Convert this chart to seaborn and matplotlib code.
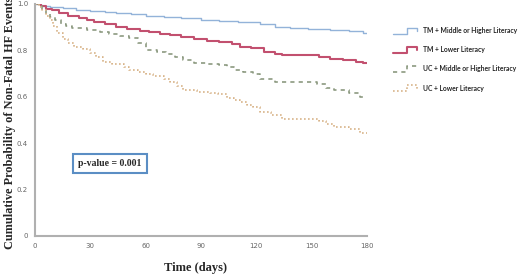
import matplotlib
matplotlib.use("Agg")
import matplotlib.pyplot as plt
import seaborn as sns
import pandas as pd
from matplotlib.lines import Line2D
from matplotlib.legend_handler import HandlerLine2D

# Kaplan-Meier-like curves (time in days, probability)
t_tm_high = [0, 3, 8, 15, 22, 30, 38, 44, 52, 60, 70, 79, 90, 100, 110, 122, 130, 138, 148, 160, 170, 178, 180]
v_tm_high = [1.0, 0.993, 0.988, 0.982, 0.976, 0.970, 0.965, 0.960, 0.955, 0.950, 0.944, 0.938, 0.933,
             0.928, 0.921, 0.912, 0.902, 0.895, 0.891, 0.887, 0.882, 0.877, 0.877]

t_tm_low = [0, 3, 6, 9, 13, 18, 24, 28, 32, 38, 44, 50, 57, 62, 68, 73, 79, 86, 93, 100, 107, 111,
            117, 124, 130, 134, 154, 160, 167, 174, 178, 180]
v_tm_low = [1.0, 0.99, 0.98, 0.972, 0.96, 0.95, 0.94, 0.932, 0.922, 0.912, 0.902, 0.893, 0.882, 0.878,
            0.872, 0.866, 0.859, 0.847, 0.842, 0.837, 0.826, 0.816, 0.812, 0.795, 0.786, 0.779, 0.772,
            0.762, 0.757, 0.751, 0.744, 0.744]

t_uc_high = [0, 2, 4, 6, 8, 11, 14, 17, 20, 28, 35, 40, 46, 51, 56, 60, 66, 71, 76, 80, 86, 93, 100,
             104, 108, 113, 118, 122, 130, 153, 158, 162, 170, 176, 180]
v_uc_high = [1.0, 0.99, 0.975, 0.958, 0.945, 0.93, 0.915, 0.905, 0.898, 0.888, 0.878, 0.872, 0.862,
             0.853, 0.83, 0.80, 0.794, 0.786, 0.77, 0.759, 0.745, 0.741, 0.737, 0.728, 0.716, 0.706,
             0.698, 0.675, 0.665, 0.656, 0.64, 0.628, 0.618, 0.60, 0.60]

t_uc_low = [0, 2, 4, 6, 8, 10, 12, 15, 18, 21, 26, 30, 33, 37, 42, 48, 51, 56, 60, 64, 70, 73, 77, 80,
            88, 95, 99, 104, 108, 111, 115, 118, 122, 128, 134, 154, 158, 162, 170, 176, 180]
v_uc_low = [1.0, 0.985, 0.972, 0.95, 0.93, 0.905, 0.875, 0.848, 0.83, 0.816, 0.806, 0.79, 0.77, 0.752,
            0.74, 0.73, 0.716, 0.706, 0.70, 0.688, 0.675, 0.665, 0.645, 0.63, 0.622, 0.618, 0.614, 0.595,
            0.585, 0.578, 0.566, 0.556, 0.536, 0.52, 0.503, 0.495, 0.482, 0.47, 0.46, 0.443, 0.443]

labels = ["TM + Middle or Higher Literacy", "TM + Lower Literacy",
          "UC + Middle or Higher Literacy", "UC + Lower Literacy"]
x_ticks = [0, 30, 60, 90, 120, 150, 180]
y_ticks = [0, 0.2, 0.4, 0.6, 0.8, 1.0]
y_tick_labels = ["0", "0.2", "0.4", "0.6", "0.8", "1.0"]
p_text = "p-value = 0.001"

series = [
    (t_tm_high, v_tm_high, "#93b3d9", 1.0, (None, None)),
    (t_tm_low, v_tm_low, "#c2506f", 1.5, (None, None)),
    (t_uc_high, v_uc_high, "#8c9a80", 1.2, (2.5, 2.5)),
    (t_uc_low, v_uc_low, "#d8b48a", 1.2, (1.0, 1.4)),
]

sns.set_style("white")
plt.rcParams["font.family"] = ["DejaVu Sans"]

fig = plt.figure(figsize=(5.2, 2.76), dpi=100)
ax = fig.add_axes([35 / 520, 1 - 236 / 276, 332 / 520, 232 / 276])

for (t, v, col, lw, dash), lab in zip(series, labels):
    df = pd.DataFrame({"t": t, "v": v})
    sns.lineplot(data=df, x="t", y="v", ax=ax, color=col, linewidth=lw,
                 drawstyle="steps-post", estimator=None, sort=False, label=lab)
    if dash[0] is not None:
        ax.lines[-1].set_dashes(dash)

ax.set_xlim(0, 180)
ax.set_ylim(0, 1.0)
ax.set_xticks(x_ticks)
ax.set_yticks(y_ticks)
ax.set_yticklabels(y_tick_labels)
ax.tick_params(length=0, labelsize=5, colors="#666666", pad=5)
ax.set_xlabel("")
ax.set_ylabel("")
for s in ["top", "right"]:
    ax.spines[s].set_visible(False)
for s in ["left", "bottom"]:
    ax.spines[s].set_color("#b0b0b0")
    ax.spines[s].set_linewidth(1.5)

ax.text(40.7, 0.3125, p_text, ha="center", va="center", fontsize=7, fontweight="bold",
        family="Liberation Serif",
        bbox=dict(boxstyle="square,pad=0.55", facecolor="white", edgecolor="#5b8ec4", linewidth=1.5))

fig.text(196 / 520, 1 - 268 / 276, "Time (days)", ha="center", va="center",
         fontsize=9, fontweight="bold", family="Liberation Serif")
fig.text(10 / 520, 1 - 123 / 276, "Cumulative Probability of Non-Fatal HF Events", ha="center",
         va="center", rotation=90, fontsize=8.8, fontweight="bold", family="Liberation Serif")


# legend icon drawn as a small KM step
class StepHandler(HandlerLine2D):
    def create_artists(self, legend, orig_handle, xdescent, ydescent, width, height, fontsize, trans):
        x0, x1 = -xdescent, -xdescent + width
        xm = x0 + 0.6 * width
        lo, hi = -ydescent, -ydescent + height
        mid = lo + 0.45 * height
        ln = Line2D([x0, xm, xm, x1, x1], [lo, lo, hi, hi, mid])
        ln.update_from(orig_handle)
        ln.set_drawstyle("default")
        ln.set_marker("")
        ln.set_clip_on(False)
        ln.set_clip_box(None)
        ln.set_transform(trans)
        return [ln]


handles = ax.lines[:4]
if ax.legend_:
    ax.legend_.remove()
fig.legend(handles, labels, loc="upper left", bbox_to_anchor=(393 / 520, 1 - 27 / 276),
           frameon=False, borderpad=0, borderaxespad=0, handlelength=3.5,
           handleheight=1.0, handletextpad=0.85, labelspacing=1.8,
           prop={"family": "Lato", "weight": "bold", "size": 4.9},
           handler_map={Line2D: StepHandler()})

fig.savefig("out.png", dpi=100, facecolor="white")
